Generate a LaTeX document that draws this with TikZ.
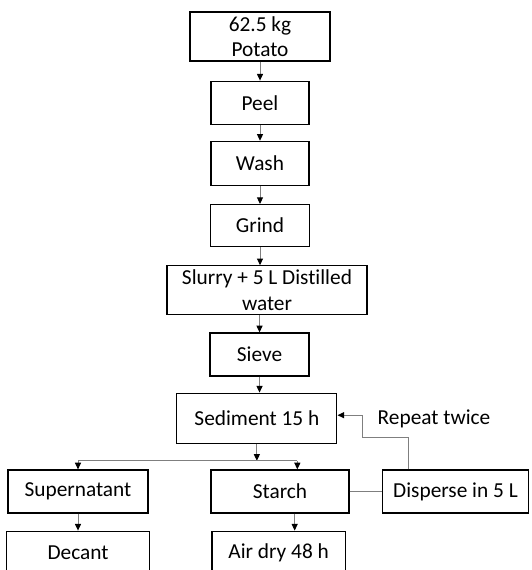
\documentclass[tikz,border=0pt]{standalone}
\usepackage{fontspec}
\setmainfont{Carlito}[Ligatures=NoCommon]
\usetikzlibrary{positioning,arrows.meta,calc}
\definecolor{line1}{HTML}{7F7F7F}

\begin{document}
\begin{tikzpicture}[
    x=0.75pt, y=-0.75pt,
    node distance=12pt,
    stepbox/.style={draw, line width=0.9pt, align=center,
                    font=\fontsize{16}{19}\selectfont,
                    inner xsep=2pt, inner ysep=0.5pt,
                    minimum width=73.5pt, minimum height=32.25pt},
    flow/.style={draw=line1, line width=0.75pt,
                 -{Triangle[length=5pt,width=4.5pt,black]}},
    link/.style={draw=line1, line width=0.75pt},
    lbl/.style={font=\fontsize{16}{19}\selectfont},
]
\useasboundingbox (0,0) rectangle (531,570);
\clip (0,0) rectangle (531,570);

% -- main column --
\node[stepbox, minimum width=105pt, minimum height=36.75pt]
    (potato) at (260,36.5) {62.5 kg\\Potato};
\node[stepbox, below=14.25pt of potato] (peel) {Peel};
\node[stepbox, minimum height=33pt, below=12pt of peel] (wash) {Wash};
\node[stepbox, minimum width=74.25pt, minimum height=31.5pt,
      below=13.5pt of wash] (grind) {Grind};
\node[stepbox, minimum width=150pt, minimum height=36.75pt,
      below=13.5pt of grind, xshift=5.25pt] (slurry)
    {Slurry + 5 L Distilled\\water};
\node[stepbox, minimum width=74.25pt, below=12.75pt of slurry,
      xshift=-5.6pt] (sieve) {Sieve};
\node[stepbox, minimum width=120pt, minimum height=37.5pt,
      below=12pt of sieve, xshift=-2pt] (sediment) {Sediment 15 h};

% -- bottom rows --
\node[stepbox, minimum width=105pt] (super) at (78,491.5) {Supernatant};
\node[stepbox, minimum width=103.5pt] (starch) at (280,491.5) {Starch};
\node[stepbox, minimum width=110pt] (disperse) at (455.5,491.5)
    {Disperse in 5 L};
\node[stepbox, minimum width=107pt, below=12.75pt of super] (decant)
    {Decant};
\node[stepbox, minimum width=100pt, below=12.75pt of starch,
      xshift=-1pt] (airdry) {Air dry 48 h};

\node[lbl] (repeat) at (434,419) {Repeat twice};

% -- arrows down the column --
\draw[flow] (potato) -- (peel);
\draw[flow] (peel) -- (wash);
\draw[flow] (wash) -- (grind);
\draw[flow] (grind.south) -- (grind.south |- slurry.north);
\draw[flow] (slurry.south -| sieve) -- (sieve.north);
\draw[flow] (sieve.south) -- (sieve.south |- sediment.north);

% -- split --
\coordinate (split) at ($(sediment.south)+(0,17)$);
\coordinate (dropA) at (super.north |- split);
\coordinate (dropB) at ([xshift=13pt]starch.north |- split);
\draw[flow] (sediment.south) -- (split);
\draw[link] (dropA) -- (dropB);
\draw[flow] (dropA) -- (super.north);
\draw[flow] (dropB) -- ([xshift=13pt]starch.north);
\draw[flow] (super) -- (decant);
\draw[flow] ([xshift=11pt]starch.south) -- ([xshift=11pt]starch.south |- airdry.north);

% -- loop back --
\draw[link] (starch.east) -- (disperse.west);
\coordinate (loopA) at ([xshift=-35pt]disperse.north);
\draw[flow] (loopA) |- ++(-46,-32) |- ([yshift=2.25pt]sediment.east);

\end{tikzpicture}
\end{document}
